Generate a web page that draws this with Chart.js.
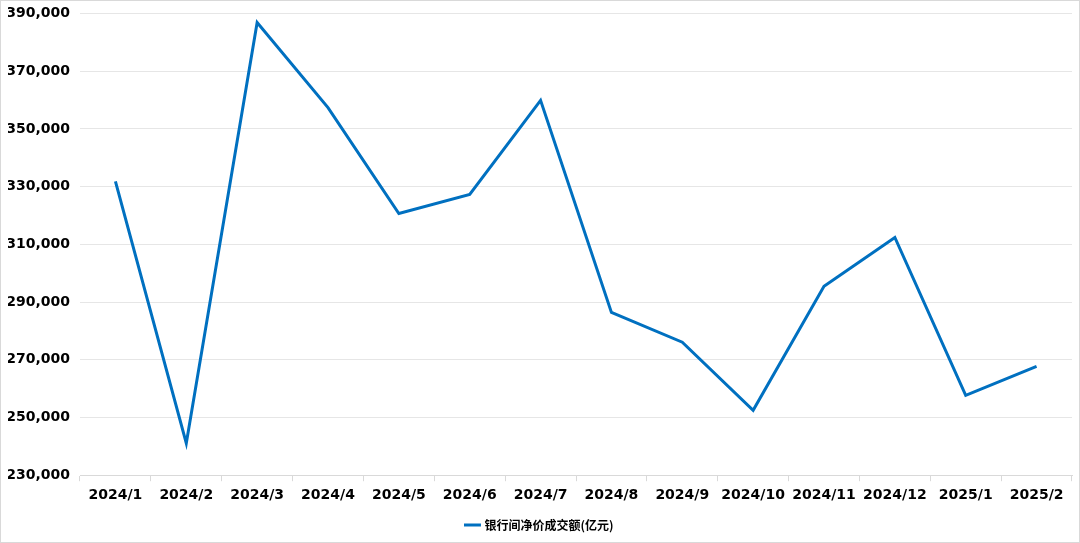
<!DOCTYPE html>
<html><head><meta charset="utf-8">
<script src="https://cdn.jsdelivr.net/npm/chart.js@4/dist/chart.umd.min.js"></script>
<style>html,body{margin:0;padding:0;background:#fff}#w{width:1080px;height:543px;position:relative}</style>
</head><body><div id="w"><canvas id="c"></canvas></div>
<script>
const categories = ["2024/1","2024/2","2024/3","2024/4","2024/5","2024/6","2024/7","2024/8","2024/9","2024/10","2024/11","2024/12","2025/1","2025/2"];
const seriesName = "银行间净价成交额(亿元)";
const seriesValues = [331800,241100,386900,357400,320700,327300,359900,286400,276100,252500,295500,312400,257700,267700];
const yMin = 230000, yMax = 390000, yStep = 20000;

const borderPlugin = {id:'border', afterDraw(chart){const c=chart.ctx;c.save();c.strokeStyle='#d9d9d9';c.lineWidth=1;c.strokeRect(0.5,0.5,chart.width-1,chart.height-1);c.restore();}};
new Chart(document.getElementById('c'), {
  type:'line',
  data:{labels:categories, datasets:[{label:seriesName, data:seriesValues, borderColor:'#0070C0', backgroundColor:'#0070C0', borderWidth:3, pointRadius:0, tension:0}]},
  options:{
    responsive:true, maintainAspectRatio:false, animation:false,
    layout:{padding:{left:8,right:8,top:0,bottom:2}},
    plugins:{legend:{position:'bottom',labels:{usePointStyle:true,pointStyle:'line',boxWidth:22,color:'#000',font:{family:'"Noto Sans CJK SC"',size:12,weight:'bold'},padding:9}},tooltip:{enabled:false}},
    scales:{
      x:{offset:true,grid:{offset:true,drawOnChartArea:false,drawTicks:true,tickLength:6,color:'#d9d9d9'},border:{color:'#d9d9d9'},ticks:{color:'#000',font:{family:'"DejaVu Sans"',size:14,weight:'bold'},padding:6,maxRotation:0,autoSkip:false}},
      y:{min:yMin,max:yMax,grid:{color:'#e6e6e6',drawTicks:false},border:{display:false},
        ticks:{stepSize:yStep,color:'#000',padding:10,font:{family:'"DejaVu Sans"',size:14,weight:'bold',lineHeight:0.5},callback:v=>v.toLocaleString('en-US')},
        afterFit(s){s.width=72;}}
    }
  },
  plugins:[borderPlugin]
});
</script></body></html>
